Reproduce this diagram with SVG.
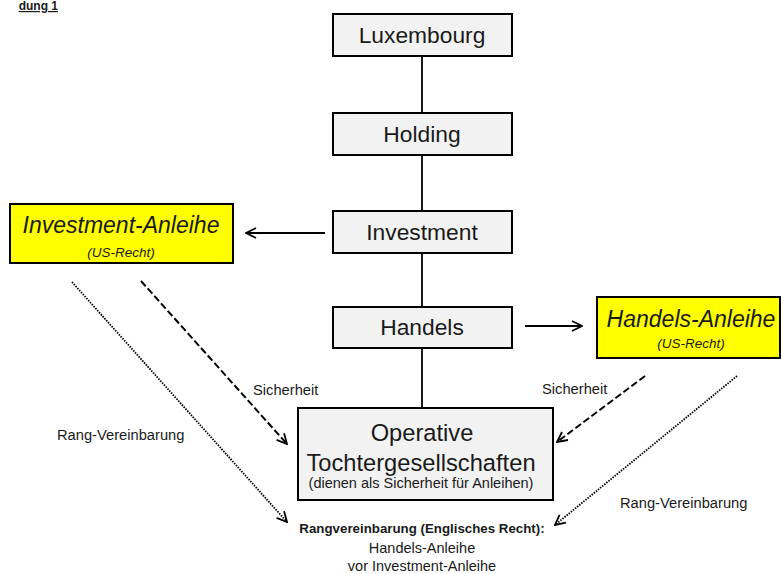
<svg xmlns="http://www.w3.org/2000/svg" width="781" height="574" viewBox="0 0 781 574">
<defs>
<style>
.box{fill:#f2f2f2;stroke:#000;stroke-width:2}
.ybox{fill:#ffff00;stroke:#000;stroke-width:2}
text{font-family:"Liberation Sans",Arial,sans-serif;fill:#1a1a1a}
.t{font-size:22.8px;text-anchor:middle}
.big{font-size:23.7px;text-anchor:middle}
.it{font-style:italic;text-anchor:middle}
.lbl{font-size:14.7px}
.bot{font-size:14.5px;text-anchor:middle}
.botb{font-size:13.3px;font-weight:bold;text-anchor:middle}
.solid{stroke:#000;stroke-width:1.8;fill:none}
.dash{stroke:#000;stroke-width:2;fill:none;stroke-dasharray:7 3}
.dot{stroke:#000;stroke-width:1.8;fill:none;stroke-dasharray:1.5 1.2}
</style>
<marker id="ah" viewBox="0 0 12 12" refX="11" refY="6" markerWidth="12" markerHeight="12" markerUnits="userSpaceOnUse" orient="auto">
<path d="M1,1 L11,6 L1,11" fill="none" stroke="#000" stroke-width="1.8"/>
</marker>
</defs>
<rect width="781" height="574" fill="#fff"/>
<text x="58" y="10" font-size="12" font-weight="bold" text-anchor="end" text-decoration="underline">dung 1</text>

<g id="connectors">
<line class="solid" x1="422" y1="56" x2="422" y2="408"/>
<line class="solid" x1="325" y1="233" x2="246" y2="233" marker-end="url(#ah)"/>
<line class="solid" x1="525" y1="326" x2="582" y2="326" marker-end="url(#ah)"/>
<line class="dash" x1="141" y1="281" x2="287" y2="444" marker-end="url(#ah)"/>
<line class="dot" x1="72" y1="282" x2="287" y2="522" marker-end="url(#ah)"/>
<line class="dash" x1="645" y1="376" x2="557" y2="442" marker-end="url(#ah)"/>
<line class="dot" x1="737" y1="376" x2="555" y2="525" marker-end="url(#ah)"/>
<text class="lbl" x="253" y="395">Sicherheit</text>
<text class="lbl" x="542" y="394">Sicherheit</text>
<text class="lbl" x="57" y="440">Rang-Vereinbarung</text>
<text class="lbl" x="620" y="508">Rang-Vereinbarung</text>
</g>

<g id="luxembourg">
<rect class="box" x="333" y="14" width="179" height="42"/>
<text class="t" x="422" y="43">Luxembourg</text>
</g>
<g id="holding">
<rect class="box" x="333" y="113" width="179" height="42"/>
<text class="t" x="422" y="142">Holding</text>
</g>
<g id="investment">
<rect class="box" x="333" y="211" width="179" height="42"/>
<text class="t" x="422" y="240">Investment</text>
</g>
<g id="handels">
<rect class="box" x="333" y="307" width="179" height="41"/>
<text class="t" x="422" y="335">Handels</text>
</g>
<g id="investment-anleihe">
<rect class="ybox" x="10" y="204" width="223" height="59"/>
<text class="it" x="121" y="233" font-size="23">Investment-Anleihe</text>
<text class="it" x="121" y="257" font-size="13.5">(US-Recht)</text>
</g>
<g id="handels-anleihe">
<rect class="ybox" x="597" y="297" width="183" height="61"/>
<text class="it" x="691" y="327" font-size="23">Handels-Anleihe</text>
<text class="it" x="691" y="348" font-size="13.5">(US-Recht)</text>
</g>
<g id="operative">
<rect class="box" x="298" y="408" width="255" height="92"/>
<text class="big" x="422" y="441">Operative</text>
<text class="big" x="421" y="471">Tochtergesellschaften</text>
<text x="421" y="488" font-size="14.5" text-anchor="middle">(dienen als Sicherheit für Anleihen)</text>
</g>
<g id="rangvereinbarung">
<text class="botb" x="422" y="533">Rangvereinbarung (Englisches Recht):</text>
<text class="bot" x="422" y="553">Handels-Anleihe</text>
<text class="bot" x="422" y="571">vor Investment-Anleihe</text>
</g>
</svg>
